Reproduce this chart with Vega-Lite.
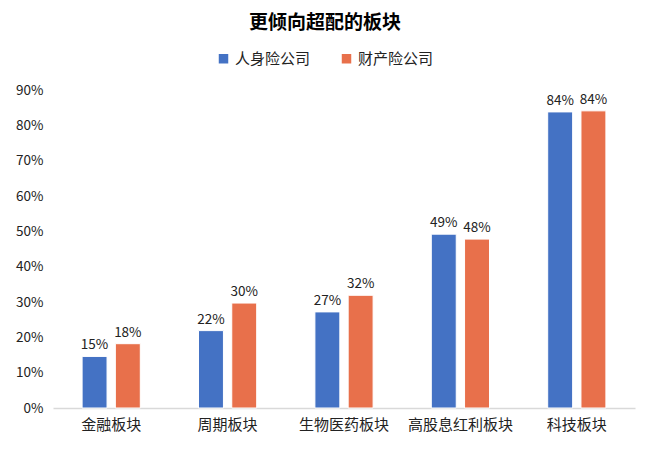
{
  "$schema": "https://vega.github.io/schema/vega-lite/v6.json",
  "autosize": {"type": "none"},
  "width": 582,
  "height": 318,
  "padding": {"left": 53, "top": 90, "right": 15, "bottom": 54},
  "background": "white",
  "config": {"view": {"stroke": null}},
  "title": {
    "text": "更倾向超配的板块",
    "font": "Noto Sans CJK SC",
    "fontSize": 19,
    "fontWeight": "bold",
    "color": "#000000",
    "anchor": "middle",
    "frame": "group",
    "offset": 18,
    "dx": -19
  },
  "data": {
    "values": [
      {"sector": "金融板块", "company": "人身险公司", "share": 0.146},
      {"sector": "金融板块", "company": "财产险公司", "share": 0.182},
      {"sector": "周期板块", "company": "人身险公司", "share": 0.219},
      {"sector": "周期板块", "company": "财产险公司", "share": 0.297},
      {"sector": "生物医药板块", "company": "人身险公司", "share": 0.272},
      {"sector": "生物医药板块", "company": "财产险公司", "share": 0.319},
      {"sector": "高股息红利板块", "company": "人身险公司", "share": 0.492},
      {"sector": "高股息红利板块", "company": "财产险公司", "share": 0.478},
      {"sector": "科技板块", "company": "人身险公司", "share": 0.838},
      {"sector": "科技板块", "company": "财产险公司", "share": 0.841}
    ]
  },
  "encoding": {
    "x": {
      "field": "sector",
      "type": "nominal",
      "sort": null,
      "scale": {"paddingInner": 0.5, "paddingOuter": 0.25},
      "axis": {
        "title": null,
        "labelAngle": 0,
        "labelFont": "Noto Sans CJK SC",
        "labelFontSize": 15,
        "labelColor": "#222222",
        "labelPadding": 9,
        "ticks": false,
        "domainColor": "#d9d9d9",
        "domainWidth": 1.5
      }
    },
    "xOffset": {
      "field": "company",
      "type": "nominal",
      "sort": ["人身险公司", "财产险公司"],
      "scale": {"paddingInner": 0.25}
    },
    "y": {
      "field": "share",
      "type": "quantitative",
      "scale": {"domain": [0, 0.9]},
      "axis": {
        "title": null,
        "format": ".0%",
        "values": [0, 0.1, 0.2, 0.3, 0.4, 0.5, 0.6, 0.7, 0.8, 0.9],
        "labelOverlap": false,
        "grid": false,
        "domain": false,
        "ticks": false,
        "labelFont": "Noto Sans CJK SC",
        "labelFontSize": 13.5,
        "labelColor": "#222222",
        "labelPadding": 10
      }
    }
  },
  "layer": [
    {
      "mark": {"type": "bar", "stroke": "white", "strokeWidth": 1},
      "encoding": {
        "color": {
          "field": "company",
          "type": "nominal",
          "sort": ["人身险公司", "财产险公司"],
          "scale": {"range": ["#4472c4", "#e8704b"]},
          "legend": {
            "title": null,
            "orient": "none",
            "direction": "horizontal",
            "legendX": 163,
            "legendY": -39,
            "symbolType": "square",
            "symbolSize": 90,
            "symbolStrokeWidth": 0,
            "labelFont": "Noto Sans CJK SC",
            "labelFontSize": 15,
            "labelColor": "#222222",
            "columnPadding": 28,
            "labelOffset": 4
          }
        }
      }
    },
    {
      "mark": {
        "type": "text",
        "dy": -11,
        "font": "Noto Sans CJK SC",
        "fontSize": 13.5,
        "color": "#222222"
      },
      "encoding": {
        "text": {"field": "share", "type": "quantitative", "format": ".0%"}
      }
    }
  ]
}
